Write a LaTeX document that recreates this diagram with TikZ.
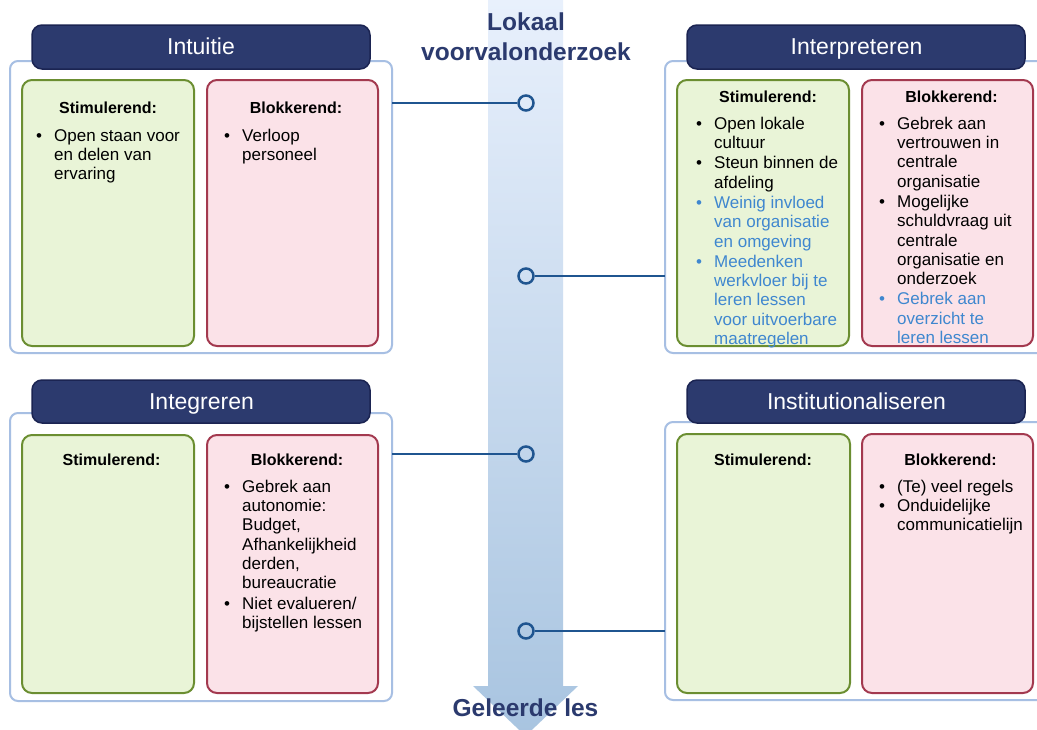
\documentclass[tikz,border=0pt]{standalone}
\usepackage{fontspec}
\setmainfont{Liberation Sans}
\definecolor{navy}{HTML}{2C3A6E}
\definecolor{navyline}{HTML}{1B2452}
\definecolor{framecol}{HTML}{A7BFE3}
\definecolor{greenfill}{HTML}{E9F4D7}
\definecolor{greenline}{HTML}{6B8E31}
\definecolor{redfill}{HTML}{FBE2E8}
\definecolor{redline}{HTML}{A3394F}
\definecolor{bluetext}{HTML}{3F87CF}
\definecolor{connblue}{HTML}{1F5590}
\definecolor{titleblue}{HTML}{2B3A6E}
\definecolor{bandtop}{HTML}{E8F0FC}
\definecolor{bandbot}{HTML}{A8C4E0}

% one bullet item: bullet, then the item's lines stacked beside it; optional colour
\newcommand\bitem[2][black]{\par\noindent{\color{#1}%
  \strut\makebox[18pt][l]{\textbullet}\parbox[t]{190pt}{\strut#2\strut}}\par}
% a stack of bullet items
\newcommand\blistbox[1]{\parbox[t]{220pt}{\fontsize{17}{19.3}\selectfont#1}}

\tikzset{
  frame/.style={draw=framecol, line width=2pt, rounded corners=8pt, fill=white},
  header/.style={draw=navyline, line width=1.5pt, fill=navy, rounded corners=10pt},
  headtext/.style={text=white, anchor=base, inner sep=0pt, font=\fontsize{23}{27}\selectfont},
  stim/.style={draw=greenline, fill=greenfill, line width=2pt, rounded corners=10pt},
  blok/.style={draw=redline, fill=redfill, line width=2pt, rounded corners=10pt},
  boxhead/.style={anchor=base, inner sep=0pt, font=\fontsize{16}{19}\selectfont\bfseries},
  blist/.style={anchor=north west, inner sep=0pt},
  dot/.style={circle, draw=connblue, line width=2.5pt, minimum size=15pt, inner sep=0pt},
  conn/.style={draw=connblue, line width=2.8pt},
  title/.style={anchor=base, inner sep=0pt, text=titleblue, font=\fontsize{24.5}{28}\selectfont\bfseries},
}

\begin{document}
\begin{tikzpicture}[x=1pt, y=-1pt]
\useasboundingbox (0,0) rectangle (1037,729);
\fill[white] (0,0) rectangle (1037,729);

% central time band with arrow head
\shade[top color=bandtop, bottom color=bandbot]
  (488,0) -- (563,0) -- (563,686) -- (578,686) -- (525.5,736) -- (473,686) -- (488,686) -- cycle;

% outer frames
\draw[frame] (10,61) rectangle (392,353);
\node[inner sep=0pt, minimum width=382pt, minimum height=292pt] (F1) at (201,207) {};
\draw[frame] (665,61) rectangle (1060,353);
\node[inner sep=0pt, minimum width=395pt, minimum height=292pt] (F2) at (862.5,207) {};
\draw[frame] (10,413) rectangle (392,701);
\node[inner sep=0pt, minimum width=382pt, minimum height=288pt] (F3) at (201,557) {};
\draw[frame] (665,422) rectangle (1060,700);
\node[inner sep=0pt, minimum width=395pt, minimum height=278pt] (F4) at (862.5,561) {};

% headers
\draw[header] (32,25) rectangle (370,69);
\node[headtext] (H1) at (201,54) {Intuitie};
\draw[header] (687,25) rectangle (1025,69);
\node[headtext] (H2) at (856.5,54) {Interpreteren};
\draw[header] (32,380) rectangle (370,423);
\node[headtext] (H3) at (201.5,409) {Integreren};
\draw[header] (687,380) rectangle (1025,423);
\node[headtext] (H4) at (856.5,409) {Institutionaliseren};

% stimulating / blocking panels
\draw[stim] (22,80) rectangle (194,346);
\draw[blok] (207,80) rectangle (378,346);
\draw[stim] (677,80) rectangle (849,346);
\draw[blok] (862,80) rectangle (1033,346);
\draw[stim] (22,435) rectangle (194,693);
\draw[blok] (207,435) rectangle (378,693);
\draw[stim] (677,434) rectangle (850,693);
\draw[blok] (862,434) rectangle (1033,693);

% panel headings
\node[boxhead] (s1) at (108,113) {Stimulerend:};
\node[boxhead] (b1) at (296,113) {Blokkerend:};
\node[boxhead] (s2) at (768,102) {Stimulerend:};
\node[boxhead] (b2) at (951.5,102) {Blokkerend:};
\node[boxhead] (s3) at (111.5,465) {Stimulerend:};
\node[boxhead] (b3) at (297,465) {Blokkerend:};
\node[boxhead] (s4) at (763,465) {Stimulerend:};
\node[boxhead] (b4) at (950.5,465) {Blokkerend:};

% bullet lists (node top = first baseline - 13.5)
\node[blist] (L1) at (36,127.5) {\blistbox{\bitem{Open staan voor\\en delen van\\ervaring}}};
\node[blist] (L2) at (224,127.5) {\blistbox{\bitem{Verloop\\personeel}}};
\node[blist] (L3) at (696,115.5) {\blistbox{%
  \bitem{Open lokale\\cultuur}
  \bitem{Steun binnen de\\afdeling}
  \bitem[bluetext]{Weinig invloed\\van organisatie\\en omgeving}
  \bitem[bluetext]{Meedenken\\werkvloer bij te\\leren lessen\\voor uitvoerbare\\maatregelen}}};
\node[blist] (L4) at (879,115.5) {\blistbox{%
  \bitem{Gebrek aan\\vertrouwen in\\centrale\\organisatie}
  \bitem{Mogelijke\\schuldvraag uit\\centrale\\organisatie en\\onderzoek}
  \bitem[bluetext]{Gebrek aan\\overzicht te\\leren lessen}}};
\node[blist] (L5) at (224,478.5) {\blistbox{%
  \bitem{Gebrek aan\\autonomie:\\Budget,\\Afhankelijkheid\\derden,\\bureaucratie}
  \bitem{Niet evalueren/\\bijstellen lessen}}};
\node[blist] (L6) at (879,478.5) {\blistbox{%
  \bitem{(Te) veel regels}
  \bitem{Onduidelijke\\communicatielijn}}};

% milestones on the band and their links to the frames
\node[dot] (c1) at (526,103) {};
\node[dot] (c2) at (526,276) {};
\node[dot] (c3) at (526,454) {};
\node[dot] (c4) at (526,631) {};
\draw[conn] (c1) -- (c1 -| F1.east);
\draw[conn] (c2) -- (c2 -| F2.west);
\draw[conn] (c3) -- (c3 -| F3.east);
\draw[conn] (c4) -- (c4 -| F4.west);

% band labels
\node[title] (t1) at (526,30) {Lokaal};
\node[title] (t2) at (526,60) {voorvalonderzoek};
\node[title] (t3) at (525.5,716) {Geleerde les};
\end{tikzpicture}
\end{document}
